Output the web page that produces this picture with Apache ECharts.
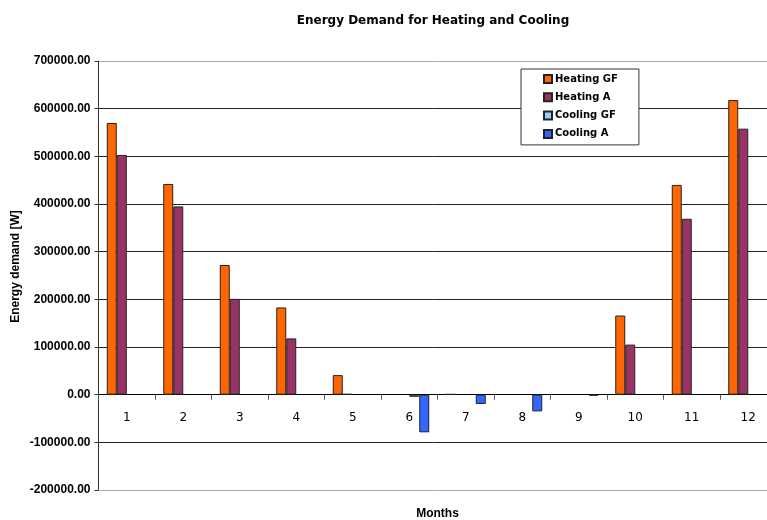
<!DOCTYPE html>
<html><head><meta charset="utf-8">
<script src="https://cdn.jsdelivr.net/npm/echarts@6/dist/echarts.min.js"></script>
<style>html,body{margin:0;padding:0;background:#fff}#c{width:767px;height:520px}</style>
</head><body><div id="c"></div>
<script>
const months = ['1','2','3','4','5','6','7','8','9','10','11','12'];
const heatingGF = [570000, 442000, 272000, 183000, 41000, null, 1200, null, null, 166000, 440000, 618000];
const heatingA  = [503000, 395000, 201000, 118000, 1500, null, null, null, null, 105000, 369000, 558000];
const coolingGF = [null, null, null, null, null, -4500, null, null, null, null, null, null];
const coolingA  = [null, null, null, null, null, -79000, -19500, -35000, -2000, null, null, null];
const seriesNames = ['Heating GF', 'Heating A', 'Cooling GF', 'Cooling A'];
const colors = ['#FF6600', '#993366', '#99CCFF', '#3366FF'];

const chart = echarts.init(document.getElementById('c'));
const font = 'Liberation Sans, Arial, sans-serif';
const wide = 'DejaVu Sans, Verdana, sans-serif';
const bar = (name, data, color) => ({
  name, type: 'bar', data, barWidth: 10, barGap: '0%',
  itemStyle: { color, borderColor: '#222', borderWidth: 1 },
  animation: false
});
chart.setOption({
  animation: false,
  title: {
    text: 'Energy Demand for Heating and Cooling',
    left: 428, top: 10, textAlign: 'center',
    textStyle: { fontFamily: wide, fontSize: 12, fontWeight: 'bold', color: '#000' }
  },
  legend: {
    orient: 'vertical', left: 521, top: 69,
    data: seriesNames,
    backgroundColor: '#fff', borderColor: '#333', borderWidth: 1,
    padding: [4, 21, 5, 22],
    itemWidth: 8, itemHeight: 8, itemGap: 6.3,
    icon: 'rect',
    textStyle: { fontFamily: wide, fontSize: 10, fontWeight: 'bold', color: '#000', lineHeight: 12, padding: [0,0,0,-2] }
  },
  grid: { left: 98.5, top: 61, width: 678, height: 429, containLabel: false, outerBoundsMode: 'none' },
  xAxis: {
    type: 'category', data: months,
    name: 'Months', nameLocation: 'middle', nameGap: 18,
    nameTextStyle: { fontFamily: font, fontSize: 12, fontWeight: 'bold', color: '#000', verticalAlign: 'top' },
    axisLine: { onZero: true, lineStyle: { color: '#000', width: 1 } },
    axisTick: { show: true, length: 5, lineStyle: { color: '#555' } },
    axisLabel: { fontFamily: wide, fontSize: 12, color: '#000', margin: -78 },
  },
  yAxis: {
    type: 'value', min: -200000, max: 700000, interval: 100000,
    name: 'Energy demand [W]', nameLocation: 'middle', nameGap: 77, nameMoveOverlap: false,
    nameTextStyle: { fontFamily: font, fontSize: 12, fontWeight: 'bold', color: '#000', padding: [0, 0, 0, 18] },
    axisLine: { show: true, lineStyle: { color: '#333' } },
    axisTick: { show: true, length: 4, lineStyle: { color: '#333' } },
    axisLabel: { fontFamily: font, fontSize: 12, fontWeight: 'bold', color: '#000', margin: 8,
      formatter: v => v.toFixed(2) },
    splitLine: { show: true, lineStyle: { color: ['#aaa','#222','#222','#222','#222','#222','#222','#222','#222','#aaa'], width: 1 } }
  },
  series: [
    bar(seriesNames[0], heatingGF, colors[0]),
    bar(seriesNames[1], heatingA, colors[1]),
    bar(seriesNames[2], coolingGF, colors[2]),
    bar(seriesNames[3], coolingA, colors[3])
  ]
});
</script></body></html>
